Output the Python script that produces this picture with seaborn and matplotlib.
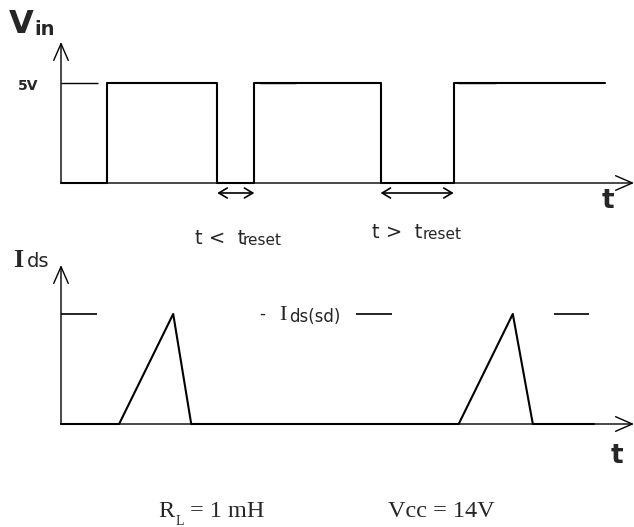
import matplotlib
matplotlib.use("Agg")
import matplotlib.pyplot as plt
import seaborn as sns

# waveform corners (time in arbitrary units)
vin_t = [0, 4.6, 4.6, 15.6, 15.6, 19.3, 19.3, 31.9, 31.9, 39.2, 39.2, 54.3]
vin_v = [0, 0, 5, 5, 0, 0, 5, 5, 0, 0, 5, 5]
ids_t = [0, 5.8, 11.2, 13.0, 39.7, 45.1, 47.1, 53.2]
ids_i = [0, 0, 1, 0, 0, 1, 0, 0]

v_high = 5
i_sd = 1
vin_ref = [(0, 3.7), (19.9, 23.5), (39.6, 43.4)]
ids_ref = [(0, 3.6), (29.4, 33.0), (49.2, 52.7)]
gaps = [(15.6, 19.3), (31.9, 39.2)]
gap_ops = ["t <  t", "t >  t"]

W, H = 634, 527
sns.set_style("white")
plt.rcParams["font.family"] = ["DejaVu Sans"]

fig = plt.figure(figsize=(W / 100, H / 100), dpi=100)


def rect(left, bottom, right, top):
    return [left / W, 1 - bottom / H, (right - left) / W, (bottom - top) / H]


def fx(x):
    return x / W


def fy(y):
    return 1 - y / H


ax1 = fig.add_axes(rect(61, 183, 634, 42))
ax2 = fig.add_axes(rect(61, 424, 634, 265))

head = "->,head_length=0.8,head_width=0.35"
for ax, ymax in [(ax1, 7.05), (ax2, 1.445)]:
    ax.set_xlim(0, 57.2)
    ax.set_ylim(0, ymax)
    ax.set_axis_off()
    for tip in [(1, 0), (0, 1)]:
        ax.annotate("", xy=tip, xytext=(0, 0), xycoords="axes fraction",
                    arrowprops=dict(arrowstyle=head, lw=1.0, color="black",
                                    shrinkA=0, shrinkB=0, mutation_scale=15))

sns.lineplot(x=vin_t, y=vin_v, ax=ax1, color="black", lw=1.5,
             estimator=None, sort=False, legend=False)
sns.lineplot(x=ids_t, y=ids_i, ax=ax2, color="black", lw=1.5,
             estimator=None, sort=False, legend=False)
for ax in (ax1, ax2):
    for ln in ax.lines:
        ln.set_clip_on(False)

for a, b in vin_ref:
    ax1.hlines(v_high, a, b, color="black", lw=1.0, clip_on=False)
for a, b in ids_ref:
    ax2.hlines(i_sd, a, b, color="black", lw=1.2, clip_on=False)

for a, b in gaps:
    ax1.annotate("", xy=(b, -0.5), xytext=(a, -0.5),
                 arrowprops=dict(arrowstyle="<->,head_length=0.5,head_width=0.3",
                                 lw=1.2, color="black", shrinkA=0, shrinkB=0,
                                 mutation_scale=12),
                 annotation_clip=False)

# labels
fig.text(fx(9), fy(33), "V", fontsize=23, fontweight="bold")
fig.text(fx(34), fy(35), "in", fontsize=14, fontweight="bold")
fig.text(fx(18), fy(90), "5V", fontsize=10, fontweight="bold")
fig.text(fx(602), fy(208), "t", fontsize=19, fontweight="bold")
fig.text(fx(611), fy(463), "t", fontsize=19, fontweight="bold")

gap_pos = [(195, 244, 243), (372, 238, 423)]
for op, (x0, yb, xs) in zip(gap_ops, gap_pos):
    fig.text(fx(x0), fy(yb), op, fontsize=14)
    fig.text(fx(xs), fy(yb + 1), "reset", fontsize=11)

fig.text(fx(13), fy(267), "I", fontsize=19, fontweight="bold",
         family="Liberation Serif")
fig.text(fx(27), fy(267), "ds", fontsize=14)

fig.text(fx(259), fy(319), "-", fontsize=12)
fig.text(fx(279), fy(320), "I", fontsize=16, family="Liberation Serif")
fig.text(fx(289), fy(322), "ds(sd)", fontsize=12)

fig.text(fx(158), fy(517), "R", fontsize=17.5, family="Liberation Serif")
fig.text(fx(176), fy(525), "L", fontsize=10, family="Liberation Serif")
fig.text(fx(190), fy(517), "= 1 mH", fontsize=17.5, family="Liberation Serif")
fig.text(fx(388), fy(517), "Vcc = 14V", fontsize=17.5, family="Liberation Serif")

fig.savefig("out.png", dpi=100)
